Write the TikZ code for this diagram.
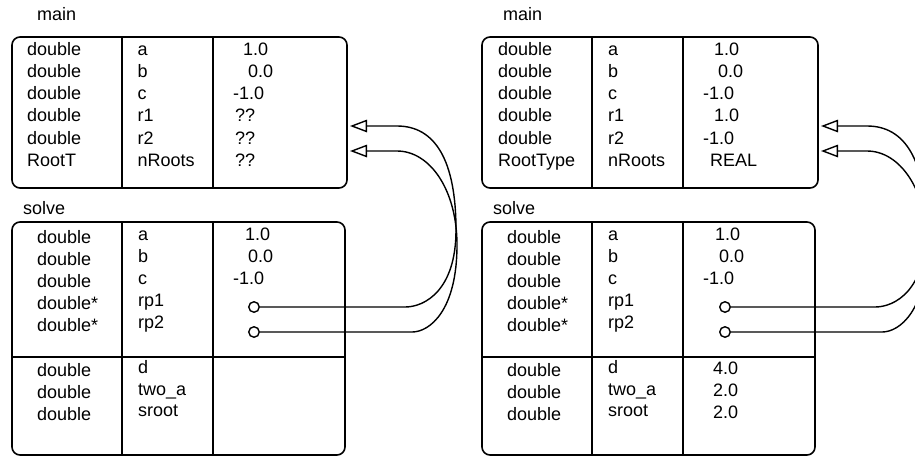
\documentclass[tikz,border=0pt]{standalone}
\usepackage{fontspec}
\setmainfont{Liberation Sans}
\usetikzlibrary{arrows.meta}
\begin{document}
\begin{tikzpicture}[x=1pt,y=-1pt,
  frame/.style={draw, line width=1.6pt, rounded corners=8pt},
  rule/.style={line width=1.6pt},
  txt/.style={anchor=base west, inner sep=0pt, font=\fontsize{18}{22}\selectfont},
  pin/.style={circle, draw, line width=1.4pt, fill=white, inner sep=0pt, minimum size=10.5pt},
  link/.style={line width=1.4pt, -{Triangle[open,length=17pt,width=12.5pt]}}]
\useasboundingbox (0,0) rectangle (915,456);
\clip (0,0) rectangle (915,456);

% ---------------- left panel: before the call returns ----------------
\begin{scope}
  \node[txt] (Lmain) at (37,20) {main};
  \draw[frame] (12,37) rectangle (347,188);
  \draw[rule] (122,37) -- (122,188) (213,37) -- (213,188);
  \node[txt] (Lt1) at (27,55)    {double};
  \node[txt] (Lt2) at (27,77.3)  {double};
  \node[txt] (Lt3) at (27,99.6)  {double};
  \node[txt] (Lt4) at (27,121.9) {double};
  \node[txt] (Lt5) at (27,144.2) {double};
  \node[txt] (Lt6) at (27,166.5) {RootT};
  \node[txt] (Ln1) at (137.5,55)    {a};
  \node[txt] (Ln2) at (137.5,77.3)  {b};
  \node[txt] (Ln3) at (137.5,99.6)  {c};
  \node[txt] (Ln4) at (137.5,121.9) {r1};
  \node[txt] (Ln5) at (137.5,144.2) {r2};
  \node[txt] (Ln6) at (137.5,166.5) {nRoots};
  \node[txt] (Lv1) at (243,55)    {1.0};
  \node[txt] (Lv2) at (248,77.3)  {0.0};
  \node[txt] (Lv3) at (233,99.6)  {-1.0};
  \node[txt] (Lv4) at (235,121.9) {??};
  \node[txt] (Lv5) at (235,144.2) {??};
  \node[txt] (Lv6) at (235,166.5) {??};
  \coordinate (Lr1) at (350,126);
  \coordinate (Lr2) at (350,151);

  \node[txt] (Lsolve) at (23,214) {solve};
  \draw[frame] (12,222) rectangle (345,455);
  \draw[rule] (122,222) -- (122,455) (213,222) -- (213,455) (12,357) -- (345,357);
  \node[txt] (Lst1) at (37,243.3) {double};
  \node[txt] (Lst2) at (37,265.4) {double};
  \node[txt] (Lst3) at (37,287.5) {double};
  \node[txt] (Lst4) at (37,309.6) {double*};
  \node[txt] (Lst5) at (37,331.7) {double*};
  \node[txt] (Lsn1) at (138,240)   {a};
  \node[txt] (Lsn2) at (138,262.1) {b};
  \node[txt] (Lsn3) at (138,284.2) {c};
  \node[txt] (Lsn4) at (138,306.3) {rp1};
  \node[txt] (Lsn5) at (138,328.4) {rp2};
  \node[txt] (Lsv1) at (245,240)   {1.0};
  \node[txt] (Lsv2) at (248,262.1) {0.0};
  \node[txt] (Lsv3) at (233,284.2) {-1.0};
  \node[pin] (Lp1) at (254,307) {};
  \node[pin] (Lp2) at (254,332) {};
  \node[txt] (Lbt1) at (37,376.7) {double};
  \node[txt] (Lbt2) at (37,398.5) {double};
  \node[txt] (Lbt3) at (37,420.3) {double};
  \node[txt] (Lbn1) at (138,373.3) {d};
  \node[txt] (Lbn2) at (138,395.1) {two\_a};
  \node[txt] (Lbn3) at (138,416.9) {sroot};

  % pointer parameters referring back to main's r1 and r2
  \draw[link] (Lp1.east) -- (405,307)
    .. controls (425,307) and (456,290) .. (456,230)
    .. controls (456,160) and (435,126) .. (397,126) -- (Lr1);
  \draw[link] (Lp2.east) -- (412,332)
    .. controls (430,332) and (457,310) .. (457,245)
    .. controls (457,190) and (430,151) .. (397,151) -- (Lr2);
\end{scope}

% ---------------- right panel: just before solve returns ----------------
\begin{scope}[xshift=470pt]
  \node[txt] (Rmain) at (33,20) {main};
  \draw[frame] (12,37) rectangle (348,188);
  \draw[rule] (122,37) -- (122,188) (213,37) -- (213,188);
  \node[txt] (Rt1) at (28,55)    {double};
  \node[txt] (Rt2) at (28,77.3)  {double};
  \node[txt] (Rt3) at (28,99.6)  {double};
  \node[txt] (Rt4) at (28,121.9) {double};
  \node[txt] (Rt5) at (28,144.2) {double};
  \node[txt] (Rt6) at (28,166.5) {RootType};
  \node[txt] (Rn1) at (138,55)    {a};
  \node[txt] (Rn2) at (138,77.3)  {b};
  \node[txt] (Rn3) at (138,99.6)  {c};
  \node[txt] (Rn4) at (138,121.9) {r1};
  \node[txt] (Rn5) at (138,144.2) {r2};
  \node[txt] (Rn6) at (138,166.5) {nRoots};
  \node[txt] (Rv1) at (244,55)    {1.0};
  \node[txt] (Rv2) at (248,77.3)  {0.0};
  \node[txt] (Rv3) at (233,99.6)  {-1.0};
  \node[txt] (Rv4) at (244,121.9) {1.0};
  \node[txt] (Rv5) at (233,144.2) {-1.0};
  \node[txt] (Rv6) at (240,166.5) {REAL};
  \coordinate (Rr1) at (351,126);
  \coordinate (Rr2) at (351,151);

  \node[txt] (Rsolve) at (23,214) {solve};
  \draw[frame] (12,222) rectangle (345,455);
  \draw[rule] (122,222) -- (122,455) (213,222) -- (213,455) (12,357) -- (345,357);
  \node[txt] (Rst1) at (37,243.3) {double};
  \node[txt] (Rst2) at (37,265.4) {double};
  \node[txt] (Rst3) at (37,287.5) {double};
  \node[txt] (Rst4) at (37,309.6) {double*};
  \node[txt] (Rst5) at (37,331.7) {double*};
  \node[txt] (Rsn1) at (138,240)   {a};
  \node[txt] (Rsn2) at (138,262.1) {b};
  \node[txt] (Rsn3) at (138,284.2) {c};
  \node[txt] (Rsn4) at (138,306.3) {rp1};
  \node[txt] (Rsn5) at (138,328.4) {rp2};
  \node[txt] (Rsv1) at (245,240)   {1.0};
  \node[txt] (Rsv2) at (249,262.1) {0.0};
  \node[txt] (Rsv3) at (233,284.2) {-1.0};
  \node[pin] (Rp1) at (255,307) {};
  \node[pin] (Rp2) at (255,332) {};
  \node[txt] (Rbt1) at (37,376.7) {double};
  \node[txt] (Rbt2) at (37,398.5) {double};
  \node[txt] (Rbt3) at (37,420.3) {double};
  \node[txt] (Rbn1) at (138,373.3) {d};
  \node[txt] (Rbn2) at (138,395.1) {two\_a};
  \node[txt] (Rbn3) at (138,416.9) {sroot};
  \node[txt] (Rbv1) at (243,374.8) {4.0};
  \node[txt] (Rbv2) at (243,396.6) {2.0};
  \node[txt] (Rbv3) at (243,418.4) {2.0};

  \draw[link] (Rp1.east) -- (405,307)
    .. controls (425,307) and (456,290) .. (456,230)
    .. controls (456,160) and (435,126) .. (397,126) -- (Rr1);
  \draw[link] (Rp2.east) -- (412,332)
    .. controls (430,332) and (457,310) .. (457,245)
    .. controls (457,190) and (430,151) .. (397,151) -- (Rr2);
\end{scope}
\end{tikzpicture}
\end{document}
